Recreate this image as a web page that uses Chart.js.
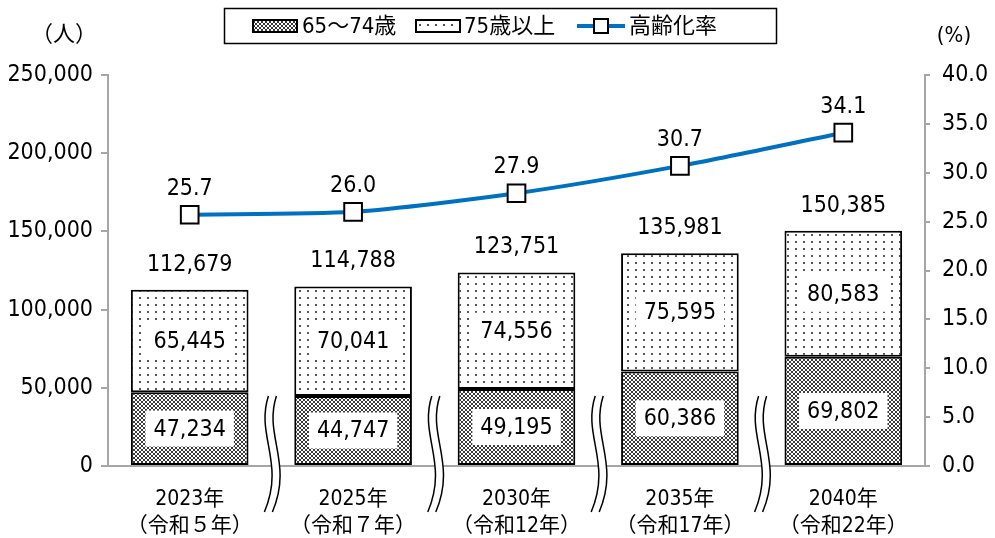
<!DOCTYPE html>
<html>
<head>
<meta charset="utf-8">
<script src="https://cdn.jsdelivr.net/npm/chart.js@4/dist/chart.umd.min.js"></script>
<style>
  body { margin: 0; background: #fff; }
  #wrap { width: 995px; height: 538px; }
</style>
</head>
<body>
<div id="wrap"><canvas id="mycanvas" width="995" height="538"></canvas></div>
<script>
// data
var years = ['2023年', '2025年', '2030年', '2035年', '2040年'];
var eras = ['（令和５年）', '（令和７年）', '（令和12年）', '（令和17年）', '（令和22年）'];
var age65to74 = [47234, 44747, 49195, 60386, 69802];
var age75plus = [65445, 70041, 74556, 75595, 80583];
var agingRate = [25.7, 26.0, 27.9, 30.7, 34.1];
var leftTicks = [0, 50000, 100000, 150000, 200000, 250000];
var rightTicks = [0, 5, 10, 15, 20, 25, 30, 35, 40];

var NUM_FONT = "'Liberation Sans Narrow', 'DejaVu Sans Condensed', 'Noto Sans CJK JP', sans-serif";
var JP_FONT = "'Liberation Sans Narrow', 'DejaVu Sans Condensed', 'Noto Sans CJK JP', sans-serif";

function fmt(n) {
  return n.toLocaleString('en-US');
}

// fill patterns
function crossPattern() {
  var c = document.createElement('canvas');
  c.width = 4; c.height = 4;
  var g = c.getContext('2d');
  g.fillStyle = '#fff';
  g.fillRect(0, 0, 4, 4);
  g.fillStyle = '#3a3a3a';
  var px = [[0,0],[3,0],[1,1],[2,1],[1,2],[2,2],[0,3],[3,3]];
  px.forEach(function(p) { g.fillRect(p[0], p[1], 1, 1); });
  return g.createPattern(c, 'repeat');
}
function dotPattern() {
  var c = document.createElement('canvas');
  c.width = 8; c.height = 7;
  var g = c.getContext('2d');
  g.fillStyle = '#fff';
  g.fillRect(0, 0, 8, 7);
  g.fillStyle = '#555';
  g.fillRect(3, 3, 2, 2);
  return g.createPattern(c, 'repeat');
}
var pat1 = crossPattern();
var pat2 = dotPattern();

var labels = years.map(function(y, i) { return [y, eras[i]]; });

var extras = {
  id: 'extras',
  afterDatasetsDraw: function(chart) {
    var ctx = chart.ctx;
    var x = chart.scales.x;
    ctx.save();

    // break marks between categories
    for (var k = 1; k < years.length; k++) {
      var cx = (x.getPixelForValue(k - 1) + x.getPixelForValue(k)) / 2 - 2;
      var t = 396, b = 512;
      ctx.beginPath();
      ctx.moveTo(cx - 1, t);
      ctx.bezierCurveTo(cx - 14, t + 40, cx + 16, b - 50, cx - 5, b);
      ctx.lineTo(cx + 3, b);
      ctx.bezierCurveTo(cx + 24, b - 50, cx - 6, t + 40, cx + 7, t);
      ctx.closePath();
      ctx.fillStyle = '#fff';
      ctx.fill();
      ctx.lineWidth = 1.5;
      ctx.strokeStyle = '#000';
      ctx.beginPath();
      ctx.moveTo(cx - 1, t);
      ctx.bezierCurveTo(cx - 14, t + 40, cx + 16, b - 50, cx - 5, b);
      ctx.stroke();
      ctx.beginPath();
      ctx.moveTo(cx + 7, t);
      ctx.bezierCurveTo(cx - 6, t + 40, cx + 24, b - 50, cx + 3, b);
      ctx.stroke();
    }

    ctx.textAlign = 'center';
    ctx.textBaseline = 'middle';
    ctx.font = '23px ' + NUM_FONT;

    // segment labels in white boxes
    [0, 1].forEach(function(di) {
      var meta = chart.getDatasetMeta(di);
      meta.data.forEach(function(bar, j) {
        var txt = fmt(chart.data.datasets[di].data[j]);
        var cy = (bar.y + bar.base) / 2;
        var w = ctx.measureText(txt).width + 16;
        ctx.fillStyle = '#fff';
        ctx.fillRect(bar.x - w / 2, cy - 18, w, 36);
        ctx.fillStyle = '#000';
        ctx.fillText(txt, bar.x, cy + 1);
      });
    });

    // totals above bars
    var top = chart.getDatasetMeta(1);
    top.data.forEach(function(bar, j) {
      ctx.fillStyle = '#000';
      ctx.fillText(fmt(age65to74[j] + age75plus[j]), bar.x, bar.y - 25);
    });

    // rate labels
    var line = chart.getDatasetMeta(2);
    line.data.forEach(function(pt, j) {
      ctx.fillText(agingRate[j].toFixed(1), pt.x, pt.y - 26);
    });

    // unit labels
    ctx.font = '22px ' + JP_FONT;
    ctx.fillText('（人）', 64, 35);
    ctx.fillText('(%)', 954, 36);

    // legend
    ctx.lineWidth = 1.5;
    ctx.strokeStyle = '#000';
    ctx.strokeRect(224.5, 8.5, 552, 35);
    var ly = 26;
    ctx.lineWidth = 2;
    ctx.fillStyle = pat1;
    ctx.fillRect(253, ly - 6, 44, 12);
    ctx.strokeRect(253, ly - 6, 44, 12);
    ctx.fillStyle = pat2;
    ctx.fillRect(416, ly - 6, 44, 12);
    ctx.strokeRect(416, ly - 6, 44, 12);
    ctx.strokeStyle = '#0070C0';
    ctx.lineWidth = 4;
    ctx.beginPath();
    ctx.moveTo(577, ly);
    ctx.lineTo(625, ly);
    ctx.stroke();
    ctx.fillStyle = '#fff';
    ctx.strokeStyle = '#000';
    ctx.lineWidth = 2;
    ctx.fillRect(594, ly - 7, 14, 14);
    ctx.strokeRect(594, ly - 7, 14, 14);
    ctx.fillStyle = '#000';
    ctx.textAlign = 'left';
    ctx.font = '22px ' + JP_FONT;
    ctx.fillText('65～74歳', 302, ly + 1);
    ctx.fillText('75歳以上', 464, ly + 1);
    ctx.fillText('高齢化率', 629, ly + 1);

    ctx.restore();
  }
};

var ctx = document.getElementById('mycanvas');

var chart = new Chart(ctx, {
  type: 'bar',
  data: {
    labels: labels,
    datasets: [
      {
        label: '65～74歳',
        data: age65to74,
        backgroundColor: pat1,
        borderColor: '#000',
        borderWidth: 2,
        borderSkipped: false,
        yAxisID: 'y',
        order: 1
      },
      {
        label: '75歳以上',
        data: age75plus,
        backgroundColor: pat2,
        borderColor: '#000',
        borderWidth: 2,
        borderSkipped: false,
        yAxisID: 'y',
        order: 1
      },
      {
        type: 'line',
        label: '高齢化率',
        data: agingRate,
        borderColor: '#0070C0',
        borderWidth: 4,
        tension: 0.25,
        pointStyle: 'rect',
        pointRadius: 12.5,
        pointBackgroundColor: '#fff',
        pointBorderColor: '#000',
        pointBorderWidth: 2,
        yAxisID: 'y1',
        order: 0
      }
    ]
  },
  options: {
    responsive: false,
    animation: false,
    layout: { padding: { top: 75, left: 0, right: 0, bottom: 0 } },
    plugins: {
      legend: { display: false },
      tooltip: { enabled: false }
    },
    datasets: { bar: { categoryPercentage: 1, barPercentage: 0.72 } },
    scales: {
      x: {
        stacked: true,
        grid: { display: false },
        border: { color: '#a6a6a6', width: 2 },
        ticks: {
          color: '#000',
          padding: 12,
          maxRotation: 0,
          font: { family: JP_FONT, size: 21, lineHeight: 1.3 }
        },
        afterFit: function(s) { s.height = 72; }
      },
      y: {
        stacked: true,
        min: 0,
        max: 250000,
        position: 'left',
        afterBuildTicks: function(s) { s.ticks = leftTicks.map(function(v) { return { value: v }; }); },
        grid: { drawOnChartArea: false, tickLength: 7, color: '#a6a6a6', lineWidth: 2 },
        border: { color: '#a6a6a6', width: 2 },
        ticks: {
          color: '#000',
          padding: 8,
          font: { family: NUM_FONT, size: 23 },
          callback: function(v) { return fmt(v); }
        },
        afterFit: function(s) { s.width = 108; }
      },
      y1: {
        min: 0,
        max: 40,
        position: 'right',
        afterBuildTicks: function(s) { s.ticks = rightTicks.map(function(v) { return { value: v }; }); },
        grid: { drawOnChartArea: false, tickLength: 5, color: '#a6a6a6', lineWidth: 2 },
        border: { color: '#a6a6a6', width: 2 },
        ticks: {
          color: '#000',
          padding: 12,
          font: { family: NUM_FONT, size: 23 },
          callback: function(v) { return v.toFixed(1); }
        },
        afterFit: function(s) { s.width = 70; }
      }
    }
  },
  plugins: [extras]
});
</script>
</body>
</html>
